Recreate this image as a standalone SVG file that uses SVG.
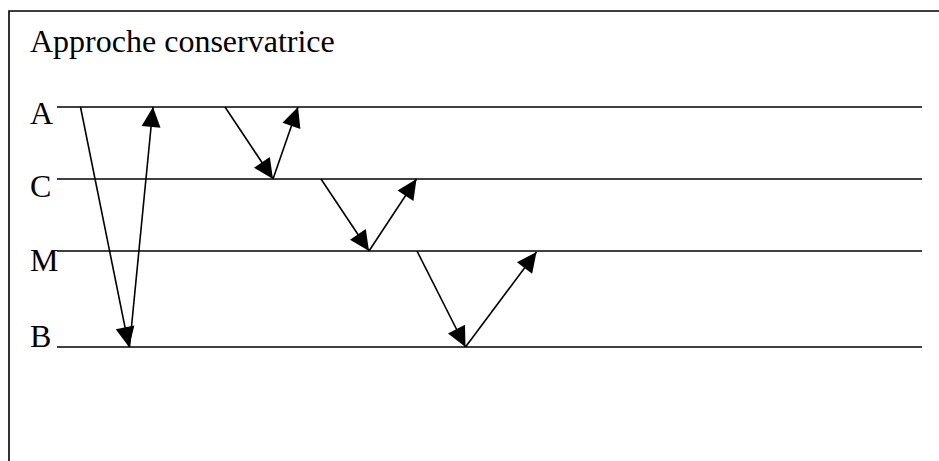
<svg xmlns="http://www.w3.org/2000/svg" width="939" height="461" viewBox="0 0 939 461">
<defs>
<style>
.t{font-family:"Liberation Serif","Times New Roman",serif;font-size:32px;fill:#000}
.ln{stroke:#000;stroke-width:1.6;fill:none}
.ar{stroke:#000;stroke-width:1.6;fill:none;marker-end:url(#ah)}
</style>
<marker id="ah" markerUnits="userSpaceOnUse" markerWidth="20" markerHeight="19" refX="20" refY="9.5" orient="auto" overflow="visible">
<path d="M0,0 L20,9.5 L0,19 z" fill="#000"/>
</marker>
</defs>
<rect width="939" height="461" fill="#fff"/>
<g id="frame">
<path class="ln" d="M9,461 L9,11 L939,11"/>
</g>
<g id="title"><text class="t" x="30" y="52">Approche conservatrice</text></g>
<g id="node-A"><text class="t" x="30" y="124">A</text><line class="ln" x1="57" y1="107" x2="922" y2="107"/></g>
<g id="node-C"><text class="t" x="30" y="197">C</text><line class="ln" x1="57" y1="179" x2="922" y2="179"/></g>
<g id="node-M"><text class="t" x="30" y="271">M</text><line class="ln" x1="57" y1="251" x2="922" y2="251"/></g>
<g id="node-B"><text class="t" x="30" y="347">B</text><line class="ln" x1="57" y1="347" x2="922" y2="347"/></g>
<g id="connectors">
<line class="ar" x1="80.5" y1="107" x2="129" y2="347"/>
<line class="ar" x1="129.5" y1="347" x2="153" y2="107"/>
<line class="ar" x1="225" y1="107" x2="273" y2="179"/>
<line class="ar" x1="273" y1="179" x2="298" y2="107"/>
<line class="ar" x1="321" y1="179" x2="369" y2="251"/>
<line class="ar" x1="369" y1="251" x2="416.5" y2="179"/>
<line class="ar" x1="417" y1="251" x2="465.5" y2="347"/>
<line class="ar" x1="465.5" y1="347" x2="536.5" y2="252"/>
</g>
</svg>
